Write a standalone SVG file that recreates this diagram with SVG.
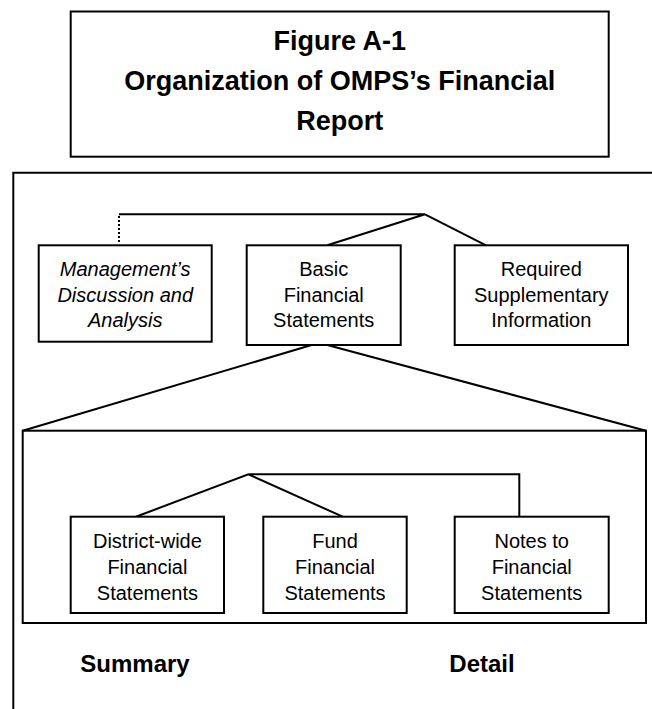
<svg xmlns="http://www.w3.org/2000/svg" width="652" height="709" viewBox="0 0 652 709">
<style>
.box{fill:#fff;stroke:#000;stroke-width:2}
.ln{fill:none;stroke:#000;stroke-width:2}
.t{font-family:"Liberation Sans",Arial,sans-serif;font-size:20px;fill:#000;text-anchor:middle}
.it{font-style:italic}
.title{font-family:"Liberation Sans",Arial,sans-serif;font-size:27px;font-weight:bold;fill:#000;text-anchor:middle}
.lbl{font-family:"Liberation Sans",Arial,sans-serif;font-size:24px;font-weight:bold;fill:#000;text-anchor:middle}
</style>
<rect width="652" height="709" fill="#fff"/>
<g id="title">
<rect class="box" x="70.7" y="11.5" width="538" height="145.2"/>
<text class="title" x="339.7" y="50">Figure A-1</text>
<text class="title" x="339.7" y="90">Organization of OMPS’s Financial</text>
<text class="title" x="339.7" y="130">Report</text>
</g>
<g id="frame">
<path class="ln" d="M652,172.7 H13.3 V709"/>
</g>
<g id="connectors">
<path class="ln" d="M119,214.3 H425 L327.3,245.3 M425,214.3 L486,245.3"/>
<path class="ln" d="M119,216 V244" stroke-dasharray="2,2"/>
<path class="ln" d="M311.7,345 L22.7,430.7 M327.3,345 L646,430.7"/>
<path class="ln" d="M136,516.7 L248.3,474.3 L342.7,516.7 M248.3,474.3 H519.3 V516.7"/>
</g>
<g id="inner">
<rect x="22.7" y="430.7" width="623.3" height="192.3" style="fill:none;stroke:#000;stroke-width:2"/>
</g>
<g id="mda">
<rect class="box" x="38.7" y="245.3" width="173" height="96.4"/>
<text class="t it" x="125.2" y="276">Management’s</text>
<text class="t it" x="125.2" y="301.7">Discussion and</text>
<text class="t it" x="125.2" y="327.3">Analysis</text>
</g>
<g id="bfs">
<rect class="box" x="246.7" y="245.3" width="154" height="99.7"/>
<text class="t" x="323.7" y="276">Basic</text>
<text class="t" x="323.7" y="301.7">Financial</text>
<text class="t" x="323.7" y="327.3">Statements</text>
</g>
<g id="rsi">
<rect class="box" x="454.7" y="245.3" width="173.3" height="99.7"/>
<text class="t" x="541.3" y="276">Required</text>
<text class="t" x="541.3" y="301.7">Supplementary</text>
<text class="t" x="541.3" y="327.3">Information</text>
</g>
<g id="district">
<rect class="box" x="70.7" y="516.7" width="153.3" height="96.3"/>
<text class="t" x="147.4" y="548.3">District-wide</text>
<text class="t" x="147.4" y="574">Financial</text>
<text class="t" x="147.4" y="600">Statements</text>
</g>
<g id="fund">
<rect class="box" x="263.3" y="516.7" width="143.4" height="96.3"/>
<text class="t" x="335" y="548.3">Fund</text>
<text class="t" x="335" y="574">Financial</text>
<text class="t" x="335" y="600">Statements</text>
</g>
<g id="notes">
<rect class="box" x="454.7" y="516.7" width="154" height="96.3"/>
<text class="t" x="531.7" y="548.3">Notes to</text>
<text class="t" x="531.7" y="574">Financial</text>
<text class="t" x="531.7" y="600">Statements</text>
</g>
<g id="labels">
<text class="lbl" x="135" y="671.5">Summary</text>
<text class="lbl" x="482" y="671.5">Detail</text>
</g>
</svg>
